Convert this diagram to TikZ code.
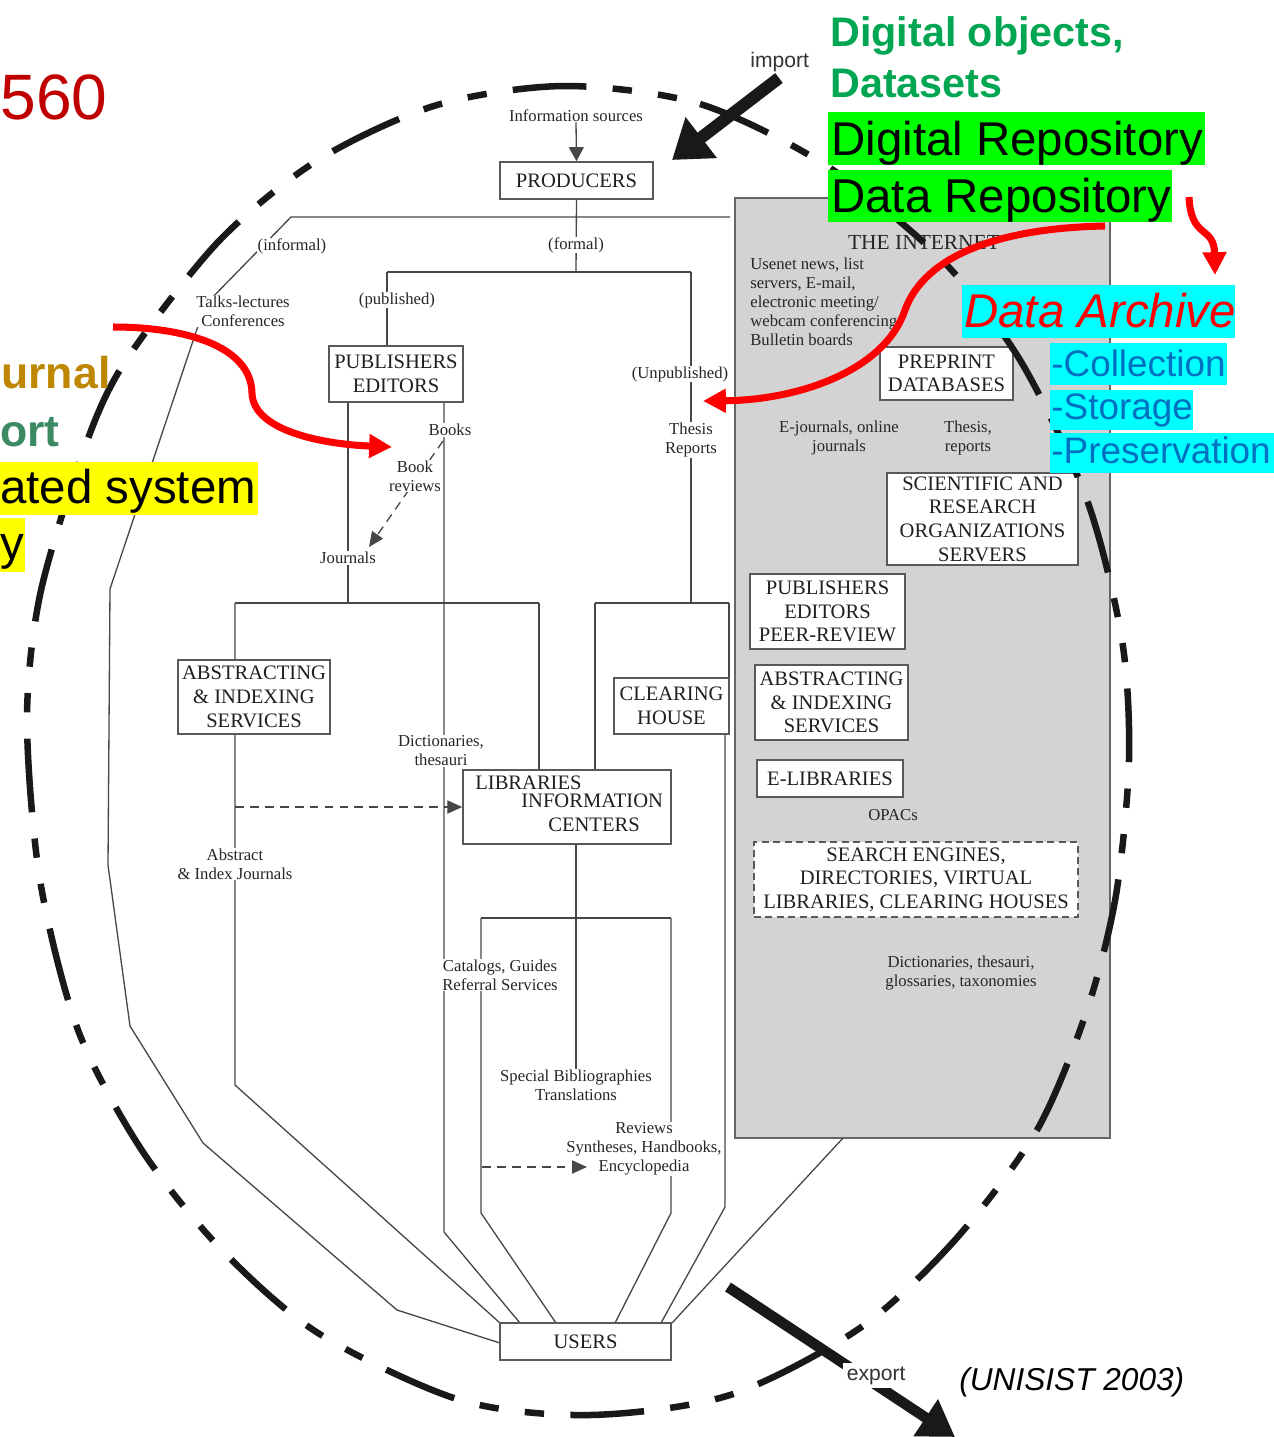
\documentclass[tikz,border=0pt]{standalone}
\usepackage{fontspec}
\setmainfont{Liberation Serif}
\newfontfamily\sansf{Liberation Sans}
\usetikzlibrary{arrows.meta}
\definecolor{dgreen}{RGB}{0,166,81}
\definecolor{hgreen}{RGB}{0,255,0}
\definecolor{hcyan}{RGB}{0,255,255}
\definecolor{hyellow}{RGB}{255,255,0}
\definecolor{cred}{RGB}{192,0,0}
\definecolor{cgold}{RGB}{191,134,0}
\definecolor{cteal}{RGB}{60,138,100}
\definecolor{cblue}{RGB}{0,112,192}
\definecolor{ggray}{RGB}{211,211,211}
\definecolor{rred}{RGB}{255,0,0}
\newcommand{\fsm}{\fontsize{9.5}{10.8}\selectfont}
\newcommand{\fbx}{\fontsize{11.7}{13.5}\selectfont}
\begin{document}
\begin{tikzpicture}[x=0.02cm,y=-0.02cm,
  ln/.style={draw=black!72, line width=0.75pt},
  dln/.style={draw=black!72, line width=0.75pt, dash pattern=on 5pt off 3.5pt},
  tipa/.style={-{Triangle[length=8.5pt,width=7.5pt]}},
  bx/.style={draw=black!65, line width=0.9pt, fill=white, inner sep=0pt, align=center, font=\fbx, text=black!88},
  lbl/.style={fill=white, inner sep=0.4pt, align=center, font=\fsm, text=black!85},
  gl/.style={inner sep=0pt, align=center, font=\fsm, text=black!85},
  ov/.style={inner sep=0pt, anchor=base west},
  ell/.style={draw=black!90, line width=3.7pt, dash pattern=on 42pt off 15pt on 11pt off 15pt on 11pt off 15pt},
  redar/.style={draw=rred, line width=4pt, -{Triangle[length=13pt,width=13pt]}}
]
\useasboundingbox (0,0) rectangle (1274,1437);
\clip (0,0) rectangle (1274,1437);

% ---------- grey Internet panel ----------
\node[draw=black!60, fill=ggray, line width=1pt, minimum width=7.5cm, minimum height=18.8cm, inner sep=0pt] (net) at (922.5,668) {};

% ---------- junction coordinates ----------
\coordinate (j1) at (576,272);
\coordinate (j2) at (387,272);
\coordinate (j3) at (691,272);
\coordinate (j4) at (691,603);
\coordinate (j5) at (595,603);
\coordinate (j6) at (729,603);
\coordinate (j7) at (348,603);
\coordinate (j8) at (235,603);
\coordinate (j9) at (539,603);
\coordinate (pubs) at (348,402);
\coordinate (bks) at (444,402);
\coordinate (bkb) at (444,1232);
\coordinate (ua) at (520,1323);
\coordinate (abb) at (235,1085);
\coordinate (libs) at (576,844);
\coordinate (k1) at (481,918);
\coordinate (k2) at (671,918);
\coordinate (k1b) at (481,1213);
\coordinate (k2b) at (671,1213);
\coordinate (ub) at (556,1323);
\coordinate (uc) at (615,1323);
\coordinate (clb) at (725,734);
\coordinate (clbb) at (725,1207);
\coordinate (ud) at (661,1323);
\coordinate (netb) at (843,1138);
\coordinate (ue) at (672,1323);
\coordinate (o1) at (730,217);
\coordinate (o2) at (291,217);
\coordinate (o3) at (205,305);
\coordinate (o4) at (110,589);
\coordinate (o5) at (108,865);
\coordinate (o6) at (130,1026);
\coordinate (o7) at (203,1143);
\coordinate (o8) at (397,1310);

% ---------- nodes needed by connectors ----------
\node[bx, minimum width=3.06cm, minimum height=0.74cm] (prod) at (576.5,180.5) {PRODUCERS};
\node[gl] (isrc) at (576,116) {Information sources};
\node[lbl] (spec) at (576,1085.5) {Special Bibliographies\\Translations};

% ---------- thin connectors ----------
\draw[ln, -{Triangle[length=8pt,width=8.5pt]}] (isrc.south) -- (prod.north);
\draw[ln] (prod.south) -- (j1);
\draw[ln] (j2) -- (j3);
\draw[ln] (j2) -- (387,346);
\draw[ln] (j3) -- (j4);
\draw[ln] (j5) -- (j6);
\draw[ln] (j5) -- (595,770);
\draw[ln] (j6) -- (729,678);
\draw[ln] (clb) -- (clbb) -- (ud);
\draw[ln] (pubs) -- (j7);
\draw[ln] (j8) -- (j9);
\draw[ln] (j9) -- (539,770);
\draw[ln] (j8) -- (abb) -- (500,1323);
\draw[ln] (bks) -- (bkb) -- (ua);
\draw[ln] (libs) -- (spec.north -| libs);
\draw[ln] (k1) -- (k2);
\draw[ln] (k1) -- (k1b) -- (ub);
\draw[ln] (k2) -- (k2b) -- (uc);
\draw[ln] (netb) -- (ue);
\draw[ln] (o1) -- (o2) -- (o3) -- (o4) -- (o5) -- (o6) -- (o7) -- (o8) -- (500,1343);

% Books -> Journals dashed
\coordinate (bkst) at (443,441);
\coordinate (bken) at (369,547);
\draw[dln, tipa] (bkst) -- (bken);

% ---------- boxes ----------
\node[bx, minimum width=2.68cm, minimum height=1.12cm] (pub) at (396,374) {PUBLISHERS\\EDITORS};
\node[bx, minimum width=3.04cm, minimum height=1.48cm] (absl) at (254,697) {ABSTRACTING\\\& INDEXING\\SERVICES};
\node[bx, minimum width=2.3cm, minimum height=1.12cm] (clear) at (671.5,706) {CLEARING\\HOUSE};
\node[bx, minimum width=4.16cm, minimum height=1.48cm] (lib) at (567,807) {};
\node[inner sep=0pt, anchor=west, font=\fbx, text=black!88] (libt1) at (475,783) {LIBRARIES};
\node[inner sep=0pt, anchor=west, font=\fbx, text=black!88] (libt2) at (521,801) {INFORMATION};
\node[inner sep=0pt, anchor=west, font=\fbx, text=black!88] (libt3) at (548,825) {CENTERS};
\node[bx, minimum width=3.42cm, minimum height=0.74cm] (users) at (585.5,1341.5) {USERS};

\node[bx, minimum width=2.66cm, minimum height=1.06cm] (pre) at (946.5,373.5) {PREPRINT\\DATABASES};
\node[bx, minimum width=3.82cm, minimum height=1.84cm] (sci) at (982.5,519) {SCIENTIFIC AND\\RESEARCH\\ORGANIZATIONS\\SERVERS};
\node[bx, minimum width=3.1cm, minimum height=1.5cm] (pubr) at (827.5,611.5) {PUBLISHERS\\EDITORS\\PEER-REVIEW};
\node[bx, minimum width=3.06cm, minimum height=1.5cm] (absr) at (831.5,702.5) {ABSTRACTING\\\& INDEXING\\SERVICES};
\node[bx, minimum width=2.92cm, minimum height=0.74cm] (elib) at (830,778.5) {E-LIBRARIES};
\node[bx, dash pattern=on 4pt off 2.5pt, minimum width=6.48cm, minimum height=1.5cm] (search) at (916,879.5) {SEARCH ENGINES,\\DIRECTORIES, VIRTUAL\\LIBRARIES, CLEARING HOUSES};

% ---------- labels on lines ----------
\node[lbl] (formal) at (576,245) {(formal)};
\node[lbl] (informal) at (292,246) {(informal)};
\node[lbl] (talks) at (243,311) {Talks-lectures\\Conferences};
\node[lbl] (published) at (397,300) {(published)};
\node[lbl] (unpub) at (680,374) {(Unpublished)};
\node[lbl] (thesis) at (691,440) {Thesis\\Reports};
\node[lbl] (books) at (450,430) {Books};
\node[lbl] (bookrev) at (415,476) {Book\\reviews};
\node[lbl] (journals) at (348,558) {Journals};
\node[lbl] (dict) at (441,751) {Dictionaries,\\thesauri};
\node[lbl] (absj) at (235,864) {Abstract\\\& Index Journals};
\node[lbl] (catal) at (500,975) {Catalogs, Guides\\Referral Services};
\node[lbl] (reviews) at (644,1149) {Reviews\\Syntheses, Handbooks,\\Encyclopedia};

% dashed arrows
\draw[dln, tipa] (235,807) -- (lib.west);
\coordinate (rvs) at (482,1167);
\coordinate (rve) at (587,1167);
\draw[dln, tipa] (rvs) -- (rve);

% ---------- Internet panel texts ----------
\node[gl, font=\fontsize{12.2}{14}\selectfont] (inet) at (924,242) {THE INTERNET};
\node[gl, align=left, anchor=west] (usenet) at (750,302) {Usenet news, list\\servers, E-mail,\\electronic meeting/\\webcam conferencing\\Bulletin boards};
\node[gl] (ejour) at (839,438) {E-journals, online\\journals};
\node[gl] (threp) at (968,438) {Thesis,\\reports};
\node[gl] (opac) at (893,815) {OPACs};
\node[gl] (dict2) at (961,973) {Dictionaries, thesauri,\\glossaries, taxonomies};

% ---------- dashed outer ring ----------
\draw[ell] plot[smooth cycle] coordinates {(565,86) (700,104) (827,166) (940,258) (1020,360) (1087,500) (1122,640) (1129,760) (1116,895) (1087,1010) (1037,1130) (955,1240) (860,1328) (730,1395) (590,1415) (460,1400) (318,1333) (220,1248) (141,1149) (78,1030) (40,880) (27,720) (40,595) (82,455) (123,365) (218,242) (318,160) (437,105)};

% ---------- import / export ----------
\coordinate (imp0) at (779,78);
\coordinate (imp1) at (672,160);
\draw[black!90, line width=7pt, -{Triangle[length=21pt,width=28pt]}] (imp0) -- (imp1);
\node[ov, font=\sansf\fontsize{12}{14}\selectfont, text=black!80] (import) at (750,67) {import};
\coordinate (exp0) at (728,1287);
\coordinate (exp1) at (955,1437);
\draw[black!90, line width=6pt, -{Triangle[length=20pt,width=24pt]}] (exp0) -- (exp1);
\node[ov, fill=white, inner sep=2pt, font=\sansf\fontsize{12}{14}\selectfont, text=black!80] (export) at (843,1380) {export};
\node[ov, font=\sansf\itshape\fontsize{18}{20}\selectfont] (unisist) at (959,1390) {(UNISIST 2003)};

% ---------- overlays left ----------
\node[ov, font=\sansf\fontsize{36.5}{40}\selectfont, text=cred] (t560) at (0,119) {560};
\node[ov, font=\sansf\bfseries\fontsize{25.4}{28}\selectfont, text=cgold] (turnal) at (1,388) {urnal};
\node[ov, font=\sansf\bfseries\fontsize{25.4}{28}\selectfont, text=cteal] (tort) at (0,446) {ort};
\fill[hyellow] (0,462) rectangle (258,515);
\node[ov, font=\sansf\fontsize{27}{30}\selectfont] (tated) at (0,503) {ated system};
\fill[hyellow] (0,518) rectangle (25,572);
\node[ov, font=\sansf\fontsize{27}{30}\selectfont] (ty) at (0,559) {y};

% ---------- overlays right ----------
\node[ov, font=\sansf\bfseries\fontsize{23.5}{27}\selectfont, text=dgreen] (tdo) at (830,46) {Digital objects,};
\node[ov, font=\sansf\bfseries\fontsize{23.5}{27}\selectfont, text=dgreen] (tds) at (830,97) {Datasets};
\fill[hgreen] (828,112) rectangle (1205,165);
\node[ov, font=\sansf\fontsize{27}{30}\selectfont] (tdr) at (831,155) {Digital Repository};
\fill[hgreen] (828,170) rectangle (1172,222);
\node[ov, font=\sansf\fontsize{27}{30}\selectfont] (tdar) at (831,212) {Data Repository};
\fill[hcyan] (962,285) rectangle (1235,338);
\node[ov, font=\sansf\itshape\fontsize{27}{30}\selectfont, text=rred] (tda) at (964,327) {Data Archive};
\fill[hcyan] (1050,343) rectangle (1227,385);
\node[ov, font=\sansf\fontsize{21}{24}\selectfont, text=cblue] (tcol) at (1051,376) {-Collection};
\fill[hcyan] (1050,390) rectangle (1193,430);
\node[ov, font=\sansf\fontsize{21}{24}\selectfont, text=cblue] (tsto) at (1051,419) {-Storage};
\fill[hcyan] (1050,433) rectangle (1274,473);
\node[ov, font=\sansf\fontsize{21}{24}\selectfont, text=cblue] (tpre) at (1051,463) {-Preservation};

% ---------- red arrows ----------
\coordinate (r1s) at (113,327);
\coordinate (r1m) at (252,393);
\coordinate (r1e) at (392,447);
\draw[redar] (r1s) .. controls (185,327) and (251,346) .. (r1m) .. controls (253,430) and (320,444) .. (r1e);
\coordinate (r2s) at (1105,226);
\coordinate (r2m) at (905,310);
\coordinate (r2e) at (703,401);
\draw[redar] (r2s) .. controls (1000,228) and (925,255) .. (r2m) .. controls (885,370) and (800,400) .. (r2e);
\coordinate (r3s) at (1189,197);
\coordinate (r3e) at (1215,275);
\draw[redar] (r3s) .. controls (1191,240) and (1214,225) .. (r3e);
\end{tikzpicture}
\end{document}
